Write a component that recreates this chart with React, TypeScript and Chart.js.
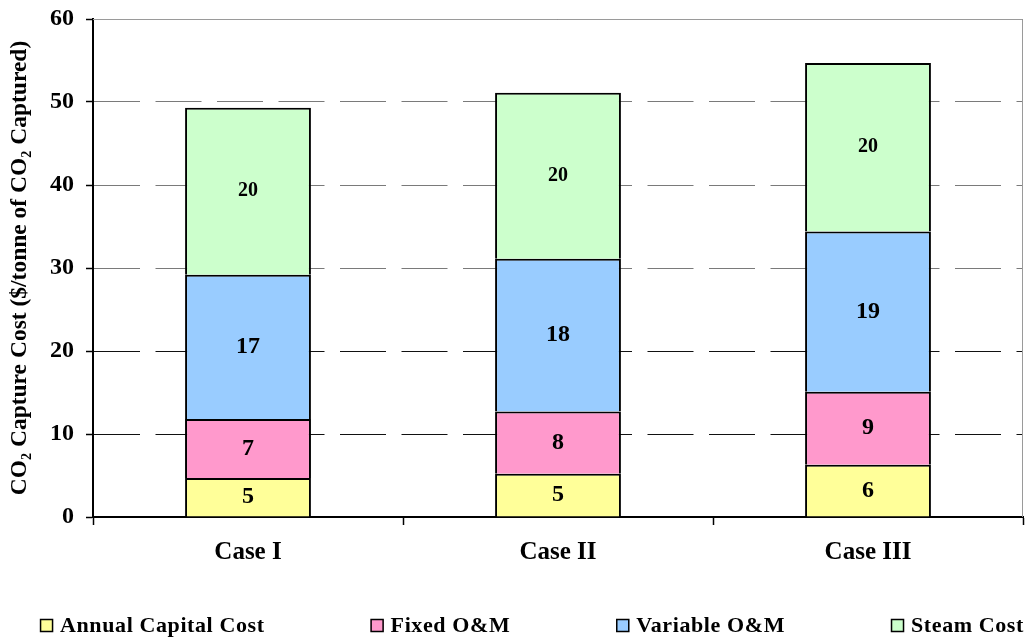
import React, { useEffect, useRef } from "react";
import { Chart, registerables } from "chart.js";

Chart.register(...registerables);

// Cost breakdown per capture case ($ per tonne of CO2 captured)
const cases = ["Case I", "Case II", "Case III"];
const annualCapitalCost = [4.7, 5.2, 6.3];
const fixedOM = [7.1, 7.5, 8.8];
const variableOM = [17.4, 18.4, 19.3];
const steamCost = [20.1, 20.0, 20.3];

const seriesLabels = ["Annual Capital Cost", "Fixed O&M", "Variable O&M", "Steam Cost"];
const seriesColors = ["#FFFF99", "#FF99CC", "#99CCFF", "#CCFFCC"];
const valueFontSizes = [24, 24, 24, 20];

const yMin = 0;
const yMax = 60;
const yStep = 10;
const yTitle = "CO\u2082 Capture Cost ($/tonne of CO\u2082 Captured)";

const FONT = '"Liberation Serif", "Times New Roman", "DejaVu Serif", serif';

// Light frame along the top and right of the plot area
const plotFrame = {
  id: "plotFrame",
  beforeDatasetsDraw(chart: any) {
    const { ctx, chartArea } = chart;
    ctx.save();
    ctx.strokeStyle = "#9a9a9a";
    ctx.lineWidth = 1;
    ctx.beginPath();
    ctx.moveTo(chartArea.left, chartArea.top + 0.5);
    ctx.lineTo(chartArea.right - 0.5, chartArea.top + 0.5);
    ctx.lineTo(chartArea.right - 0.5, chartArea.bottom);
    ctx.stroke();
    ctx.restore();
  },
};

// Rounded value printed in the middle of each stacked segment
const segmentValues = {
  id: "segmentValues",
  afterDatasetsDraw(chart: any) {
    const { ctx } = chart;
    ctx.save();
    ctx.fillStyle = "#000";
    ctx.textAlign = "center";
    ctx.textBaseline = "middle";
    chart.data.datasets.forEach((ds: any, di: number) => {
      const meta = chart.getDatasetMeta(di);
      ctx.font = `bold ${valueFontSizes[di]}px ${FONT}`;
      meta.data.forEach((el: any, i: number) => {
        const v = ds.data[i] as number;
        const cy = (el.y + el.base) / 2;
        ctx.fillText(String(Math.round(v)), el.x, cy);
      });
    });
    ctx.restore();
  },
};

// Single-row legend along the bottom edge
const bottomLegend = {
  id: "bottomLegend",
  afterDraw(chart: any) {
    const { ctx } = chart;
    const datasets = chart.data.datasets;
    const box = 13;
    const boxGap = 7;
    const itemGap = 106;
    ctx.save();
    ctx.font = `bold 22px ${FONT}`;
    (ctx as any).letterSpacing = "0.6px";
    const widths = datasets.map(
      (d: any) => box + boxGap + ctx.measureText(d.label).width
    );
    const total =
      widths.reduce((a: number, b: number) => a + b, 0) + itemGap * (datasets.length - 1);
    let x = 532 - total / 2;
    const boxTop = 619;
    datasets.forEach((d: any, i: number) => {
      ctx.fillStyle = d.backgroundColor;
      ctx.fillRect(x, boxTop, box, box);
      ctx.strokeStyle = "#000";
      ctx.lineWidth = 1.5;
      ctx.strokeRect(x + 0.5, boxTop + 0.5, box - 1, box - 1);
      ctx.fillStyle = "#000";
      ctx.textAlign = "left";
      ctx.textBaseline = "alphabetic";
      ctx.fillText(d.label, x + box + boxGap, 632);
      x += widths[i] + itemGap;
    });
    ctx.restore();
  },
};

export default function App() {
  const canvasRef = useRef<HTMLCanvasElement | null>(null);

  useEffect(() => {
    if (!canvasRef.current) return;
    const series = [annualCapitalCost, fixedOM, variableOM, steamCost];
    const chart = new Chart(canvasRef.current, {
      type: "bar",
      data: {
        labels: cases,
        datasets: series.map((values, i) => ({
          label: seriesLabels[i],
          data: values,
          backgroundColor: seriesColors[i],
          borderColor: "#000",
          borderWidth: { top: 2, left: 2, right: 2, bottom: 0 },
          borderSkipped: "start",
          categoryPercentage: 1,
          barPercentage: 0.406,
        })),
      },
      options: {
        responsive: false,
        animation: false,
        layout: { padding: { top: 19, right: 6, bottom: 61, left: 0 } },
        plugins: {
          legend: { display: false },
          tooltip: { enabled: false },
        },
        scales: {
          x: {
            stacked: true,
            offset: true,
            grid: {
              display: true,
              offset: true,
              drawOnChartArea: false,
              drawTicks: true,
              tickLength: 8,
              tickColor: "#000",
              tickWidth: 1.5,
            },
            border: { display: true, color: "#000", width: 2 },
            ticks: {
              color: "#000",
              font: { family: FONT, size: 25, weight: "bold" },
              padding: 13,
              maxRotation: 0,
            },
            afterFit: (s: any) => {
              s.height = 60;
              s.paddingLeft = 0;
              s.paddingRight = 0;
            },
          },
          y: {
            stacked: true,
            min: yMin,
            max: yMax,
            ticks: {
              stepSize: yStep,
              color: "#000",
              font: { family: FONT, size: 24, weight: "bold" },
              padding: 12,
            },
            grid: {
              color: (c: any) => (c.tick && c.tick.value >= 30 ? "#7a7a7a" : "#111"),
              lineWidth: 1,
              tickLength: 7,
              tickColor: "#000",
              tickWidth: 1.5,
            },
            border: { display: true, color: "#000", width: 2, dash: [46, 15.5] },
            title: {
              display: true,
              text: yTitle,
              color: "#000",
              font: { family: FONT, size: 23.5, weight: "bold" },
              padding: { top: 6, bottom: 0 },
            },
            afterFit: (s: any) => {
              s.width = 93;
              s.paddingTop = 0;
              s.paddingBottom = 0;
            },
          },
        },
      },
      plugins: [plotFrame, segmentValues, bottomLegend],
    } as any);
    return () => chart.destroy();
  }, []);

  return (
    <div style={{ position: "absolute", left: 0, top: 0, width: 1029, height: 638, background: "#fff" }}>
      <canvas ref={canvasRef} width={1029} height={638} style={{ display: "block" }} />
    </div>
  );
}
